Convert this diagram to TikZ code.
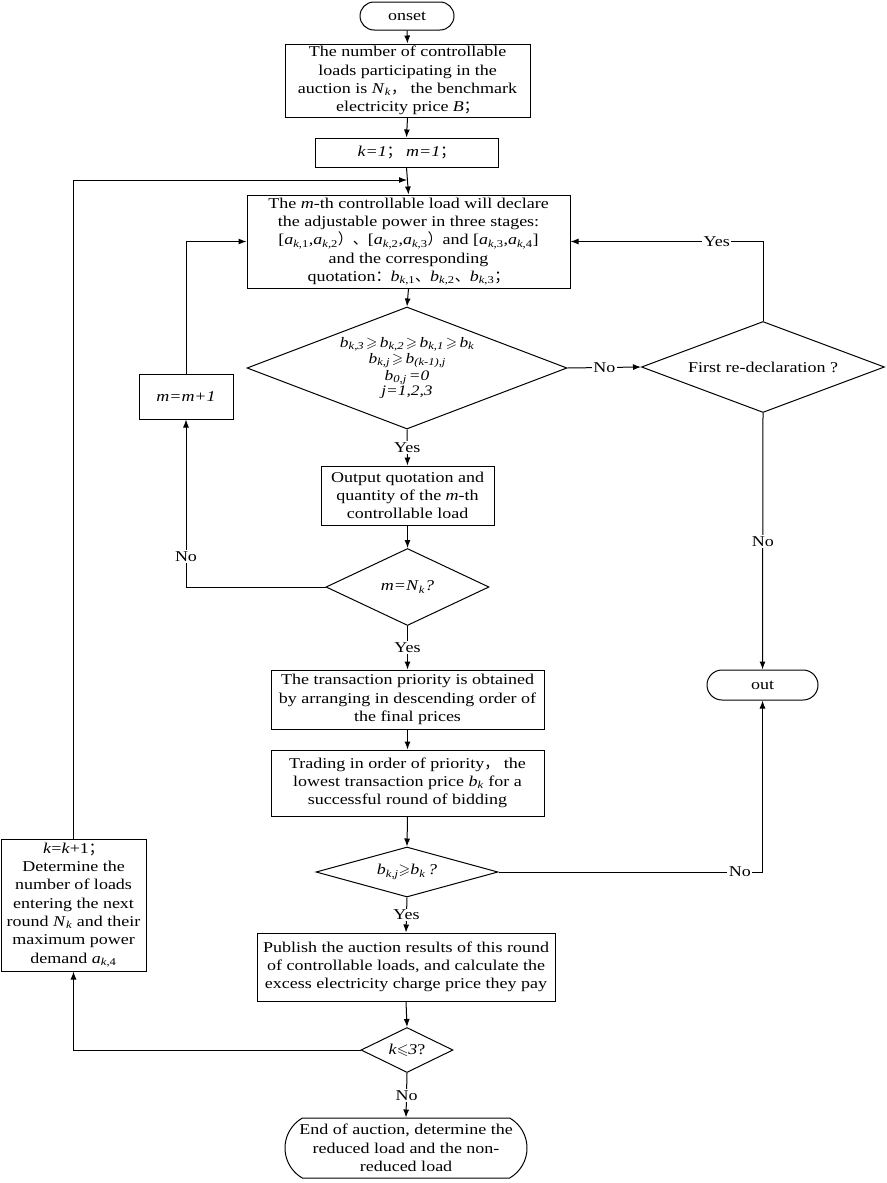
\documentclass[tikz,border=0pt]{standalone}
\usepackage{fontspec}
\usepackage{amssymb}
\setmainfont{Liberation Serif}[FakeStretch=1.2]
\newfontfamily\cjk{Noto Sans CJK SC}
\usetikzlibrary{shapes.geometric,shapes.misc,arrows.meta}
\newcommand{\vsub}[2]{\textit{#1}\textsubscript{#2}}
\newcommand{\dsub}[2]{\textit{#1}\raisebox{-0.3ex}{\fontsize{10.5}{10.5}\selectfont\textit{#2}}}
\newcommand{\cj}[1]{{\cjk #1}}
\tikzset{
 base/.style={font=\fontsize{15}{18.3}\selectfont, line width=1pt},
 box/.style={base, draw, rectangle, inner sep=0pt, align=center},
 term/.style={base, draw, rounded rectangle, inner sep=0pt, align=center},
 dec/.style={base, draw, diamond, inner sep=0pt},
 dtext/.style={inner sep=0pt, align=center},
 flow/.style={line width=1pt, -{Latex[length=8pt,width=6pt]}},
 lab/.style={font=\fontsize{15}{18}\selectfont, fill=white, inner sep=1.5pt},
}
\begin{document}
\begin{tikzpicture}[x=1pt,y=-1pt]
\useasboundingbox (0,0) rectangle (886,1183);

\node[term, minimum width=94, minimum height=28] (onset) at (407,16) {onset};
\node[box, minimum width=245, minimum height=73] (b1) at (407.5,80.5)
 {The number of controllable\\ loads participating in the\\ auction is \vsub{N}{\textit{k}}\cj{，} the benchmark\\ electricity price \textit{B}\cj{；}};
\node[box, minimum width=183, minimum height=29] (k1) at (406.5,152.5)
 {\textit{k=1}\cj{；}\ \textit{m=1}\cj{；}};
\coordinate (J) at (407,180);
\node[box, minimum width=323, minimum height=93] (mth) at (408.5,241.5)
 {The \textit{m}-th controllable load will declare\\
  the adjustable power in three stages:\\
  {[}\vsub{a}{\textit{k},1},\vsub{a}{\textit{k},2}\cj{）、}[\vsub{a}{\textit{k},2},\vsub{a}{\textit{k},3}\cj{）}and [\vsub{a}{\textit{k},3},\vsub{a}{\textit{k},4}]\\
  and the corresponding\\
  quotation\cj{：}\vsub{b}{\textit{k},1}\cj{、}\vsub{b}{\textit{k},2}\cj{、}\vsub{b}{\textit{k},3}\cj{；}};

\node[dec, minimum width=320, minimum height=122] (d1) at (407,368) {};
\node[dtext, font=\fontsize{14.5}{15}\selectfont] (d1t) at (d1.center)
 {\dsub{b}{k,3}\,$\geqslant$\,\dsub{b}{k,2}\,$\geqslant$\,\dsub{b}{k,1}\,$\geqslant$\,\dsub{b}{k}\\[1.5pt]
  \dsub{b}{k,j}\,$\geqslant$\,\dsub{b}{(k-1),j}\\[1.5pt]
  \dsub{b}{0,j}\,\textit{=0}\\[0pt]
  \textit{j=1,2,3}};

\node[dec, minimum width=243, minimum height=91] (d2) at (763,367) {};
\node[dtext, base] (d2t) at (d2.center) {First re-declaration ?};

\node[box, minimum width=94, minimum height=45] (mm1) at (186,396.5) {\textit{m=m+1}};

\node[box, minimum width=173, minimum height=59] (outq) at (407.5,495.5)
 {Output quotation and\\ quantity of the \textit{m}-th\\ controllable load};

\node[dec, minimum width=163, minimum height=77] (d3) at (407.5,587) {};
\node[dtext, base] (d3t) at (d3.center) {\textit{m=}\vsub{N}{\textit{k}}\textit{?}};

\node[term, minimum width=111, minimum height=30] (out) at (762.5,685) {out};

\node[box, minimum width=273, minimum height=59] (prio) at (407.5,699.5)
 {The transaction priority is obtained\\ by arranging in descending order of\\ the final prices};
\node[box, minimum width=273, minimum height=66] (trade) at (407.5,783)
 {Trading in order of priority\cj{，} the\\ lowest transaction price \vsub{b}{\textit{k}} for a\\ successful round of bidding};

\node[dec, minimum width=182, minimum height=50] (d4) at (407,872) {};
\node[dtext, base] (d4t) at (d4.center) {\vsub{b}{\textit{k,j}}$\geqslant$\vsub{b}{\textit{k}}\,\textit{?}};

\node[box, minimum width=298, minimum height=68] (pub) at (406,967)
 {Publish the auction results of this round\\ of controllable loads, and calculate the\\ excess electricity charge price they pay};

\node[dec, minimum width=92, minimum height=45] (d5) at (407,1050) {};
\node[dtext, base] (d5t) at (d5.center) {\textit{k}$\leqslant$\textit{3}?};

\node[box, minimum width=145, minimum height=132] (kk1) at (73.5,905)
 {\textit{k}=\textit{k}+1\cj{；}\\ Determine the\\ number of loads\\ entering the next\\ round \vsub{N}{\textit{k}} and their\\ maximum power\\ demand \vsub{a}{\textit{k},4}};

\node[term, rounded rectangle arc length=120, minimum width=242, minimum height=60] (fin) at (406,1148)
 {End of auction, determine the\\ reduced load and the non-\\ reduced load};

% connectors
\draw[flow] (onset.south) -- (b1.north);
\draw[flow] (b1.south) -- (k1.north);
\draw[flow] (k1.south) -- (mth.north);
\draw[flow] (kk1.north) |- (J);
\draw[flow] (mth.south) -- (d1.north);
\draw[flow] (d1.east) -- node[lab]{No} (d2.west);
\draw[flow] (d2.north) |- node[lab, pos=0.62]{Yes} (mth.east);
\draw[flow] (d2.south) -- node[lab]{No} (out.north);
\draw[flow] (d1.south) -- node[lab]{Yes} (outq.north);
\draw[flow] (outq.south) -- (d3.north);
\draw[flow] (d3.west) -| node[lab, pos=0.59]{No} (mm1.south);
\draw[flow] (mm1.north) |- (mth.west);
\draw[flow] (d3.south) -- node[lab]{Yes} (prio.north);
\draw[flow] (prio.south) -- (trade.north);
\draw[flow] (trade.south) -- (d4.north);
\draw[flow] (d4.east) -| node[lab, pos=0.457]{No} (out.south);
\draw[flow] (d4.south) -- node[lab]{Yes} (pub.north);
\draw[flow] (pub.south) -- (d5.north);
\draw[flow] (d5.west) -| (kk1.south);
\draw[flow] (d5.south) -- node[lab]{No} (fin.north);
\end{tikzpicture}
\end{document}
